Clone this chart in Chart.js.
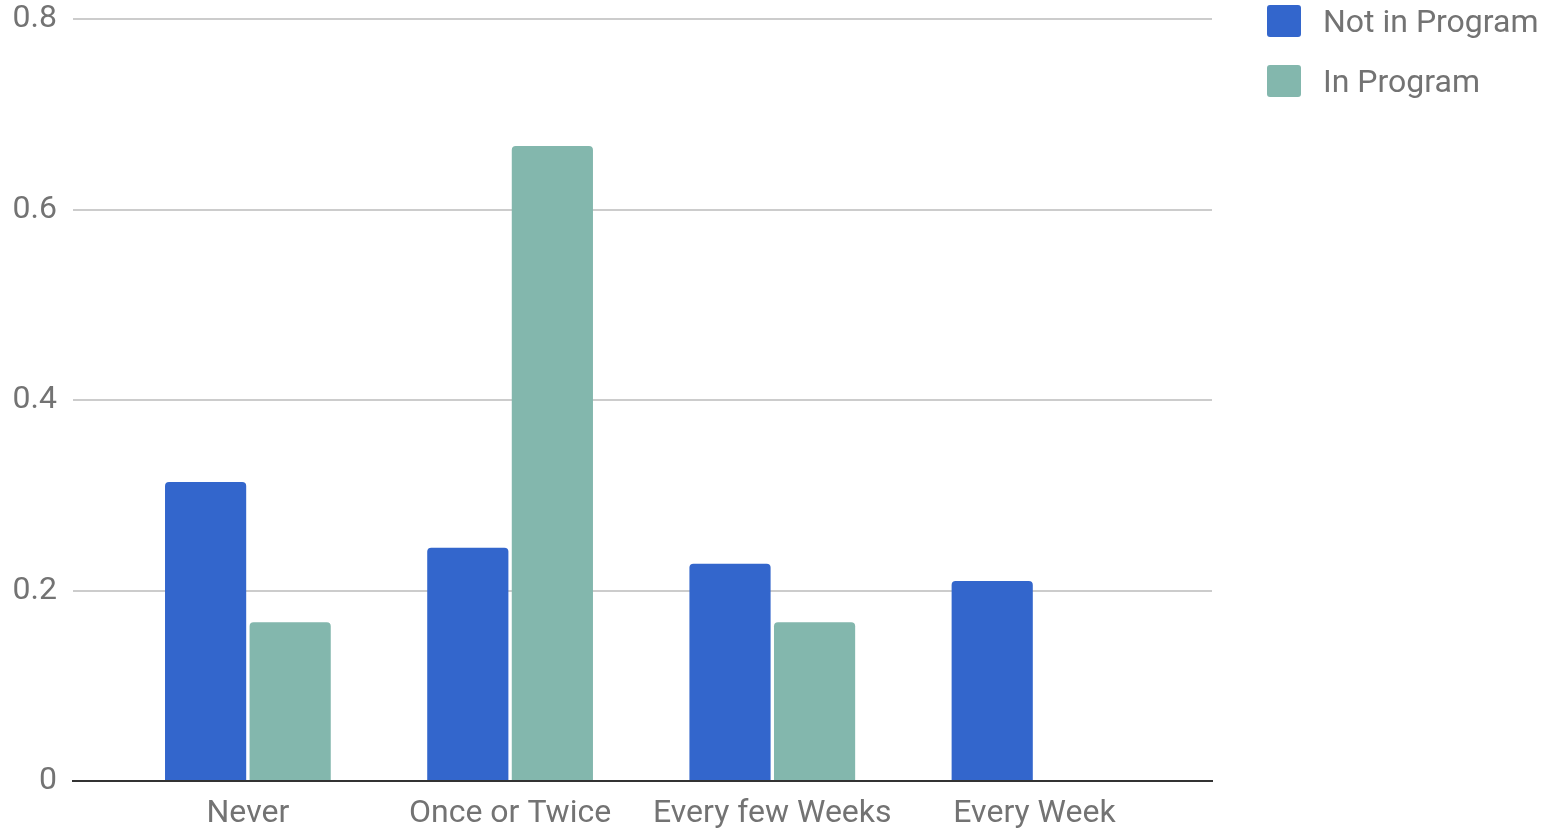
<!DOCTYPE html>
<html>
<head>
<meta charset="utf-8">
<script src="https://cdn.jsdelivr.net/npm/chart.js"></script>
<style>
  body { margin: 0; background: #fff; }
  #wrap { position: relative; width: 1545px; height: 830px; }
  #legend { position: absolute; left: 1267px; top: 5px; font-family: Roboto, sans-serif; font-size: 32px; color: #737373; }
  .item { display: flex; align-items: center; height: 32px; margin-bottom: 28px; white-space: nowrap; }
  .box { width: 34px; height: 32px; border-radius: 3px; margin-right: 22px; }
</style>
</head>
<body>
<div id="wrap">
  <canvas id="chart" width="1545" height="830"></canvas>
  <div id="legend"></div>
</div>
<script>
// Dữ liệu
const categories = ['Never', 'Once or Twice', 'Every few Weeks', 'Every Week'];
const notInProgram = [0.314, 0.245, 0.228, 0.21];
const inProgram = [0.1667, 0.6667, 0.1667, 0];
const yTicks = [0, 0.2, 0.4, 0.6, 0.8];

const seriesNames = ['Not in Program', 'In Program'];
const seriesColors = ['#3366cc', '#83b7ad'];

const toPoints = arr => arr.map((v, i) => ({ x: i, y: v }));

const ctx = document.getElementById('chart').getContext('2d');
const chart = new Chart(ctx, {
    type: 'bar',
    data: {
        datasets: [{
            label: seriesNames[0],
            data: toPoints(notInProgram),
            backgroundColor: seriesColors[0],
            borderRadius: 4
        }, {
            label: seriesNames[1],
            data: toPoints(inProgram),
            backgroundColor: seriesColors[1],
            borderRadius: 4
        }]
    },
    options: {
        responsive: false,
        animation: false,
        categoryPercentage: 0.645,
        barPercentage: 0.96,
        layout: { padding: { top: 19, right: 333, bottom: 0, left: 0 } },
        plugins: {
            legend: { display: false },
            tooltip: { enabled: false }
        },
        scales: {
            x: {
                type: 'linear',
                offset: false,
                min: -0.667,
                max: 3.677,
                grid: { display: false },
                border: { display: true, color: '#333333', width: 2 },
                afterBuildTicks: scale => {
                    scale.ticks = categories.map((c, i) => ({ value: i }));
                },
                afterFit: scale => { scale.height = 49; },
                ticks: {
                    autoSkip: false,
                    maxRotation: 0,
                    padding: 6,
                    color: '#737373',
                    font: { family: 'Roboto', size: 32 },
                    callback: value => categories[value]
                }
            },
            y: {
                min: 0,
                max: 0.8,
                afterBuildTicks: scale => {
                    scale.ticks = yTicks.map(v => ({ value: v }));
                },
                afterFit: scale => {
                    scale.width = 73;
                    scale.paddingTop = 0;
                    scale.paddingBottom = 0;
                },
                grid: { color: '#cccccc', lineWidth: 2, drawTicks: false },
                border: { display: false },
                ticks: {
                    padding: 16,
                    color: '#737373',
                    font: { family: 'Roboto', size: 32 },
                    callback: value => String(+value.toFixed(1))
                }
            }
        }
    }
});

// Chú thích dạng HTML
const legend = document.getElementById('legend');
chart.data.datasets.forEach(ds => {
    const item = document.createElement('div');
    item.className = 'item';
    item.innerHTML = '<span class="box" style="background:' + ds.backgroundColor + '"></span>' + ds.label;
    legend.appendChild(item);
});
</script>
</body>
</html>
